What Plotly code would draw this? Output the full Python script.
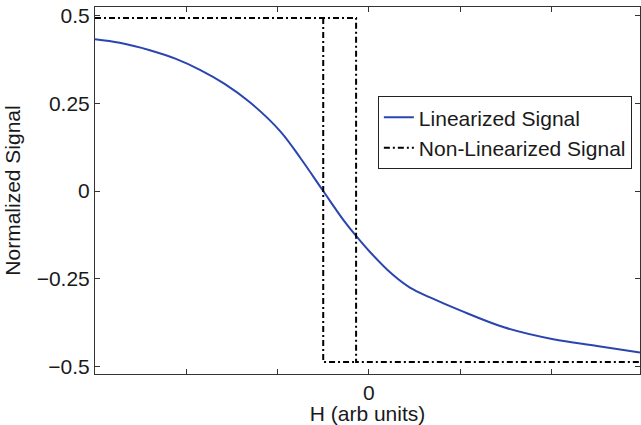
import plotly.graph_objects as go

# Linearized signal (blue curve)
h_lin = [-3.0, -2.73, -2.40, -2.12, -1.85, -1.58, -1.30, -0.97, -0.75, -0.50, -0.28, -0.14,
         0.01, 0.26, 0.45, 0.67, 1.00, 1.48, 2.02, 2.50, 2.97]
sig_lin = [0.432, 0.422, 0.401, 0.377, 0.345, 0.305, 0.252, 0.170, 0.094, 0.0, -0.082, -0.128,
           -0.173, -0.238, -0.275, -0.303, -0.340, -0.388, -0.422, -0.441, -0.46]

# Non-linearized signal (hysteresis loop), drawn without overlapping segments
h_non = [-3.0, -0.14, -0.14, 2.97, None, -0.50, -0.50, -0.14]
sig_non = [0.493, 0.493, -0.487, -0.487, None, 0.493, -0.487, -0.487]

x_tickvals = [-2, -1, 0, 1, 2]
x_ticktext = ["", "", "0", "", ""]
y_tickvals = [0.5, 0.25, 0, -0.25, -0.5]
y_ticktext = ["0.5", "0.25", "0", "\u22120.25", "\u22120.5"]

FONT = dict(family="Liberation Sans, Arial", size=21, color="#1a1a1a")

fig = go.Figure()
fig.add_trace(go.Scatter(x=h_lin, y=sig_lin, mode="lines", name="Linearized Signal",
                         line=dict(color="#2b45b0", width=2, shape="spline", smoothing=1.0)))
fig.add_trace(go.Scatter(x=h_non, y=sig_non, mode="lines", name="Non-Linearized Signal",
                         connectgaps=False,
                         line=dict(color="black", width=2, dash="6px,3px,2px,3px")))

axis_common = dict(showline=True, linecolor="#333333", linewidth=1, mirror="ticks",
                   ticks="inside", ticklen=5, tickcolor="#333333", showgrid=False,
                   zeroline=False, tickfont=FONT)

fig.update_xaxes(range=[-3, 2.97], tickvals=x_tickvals, ticktext=x_ticktext,
                 title=dict(text="H (arb units)", font=FONT, standoff=0),
                 **axis_common)
fig.update_yaxes(range=[-0.521, 0.524], tickvals=y_tickvals, ticktext=y_ticktext,
                 title=dict(text="Normalized Signal", font=FONT, standoff=10),
                 **axis_common)

fig.update_layout(
    width=641, height=425,
    margin=dict(l=95, r=1, t=7, b=51),
    plot_bgcolor="white", paper_bgcolor="white",
    showlegend=True,
    legend=dict(x=0.519, y=0.757, xanchor="left", yanchor="top",
                bgcolor="white", bordercolor="#222", borderwidth=1,
                font=FONT, tracegroupgap=0, itemwidth=30),
)

fig.write_html("out.html")
